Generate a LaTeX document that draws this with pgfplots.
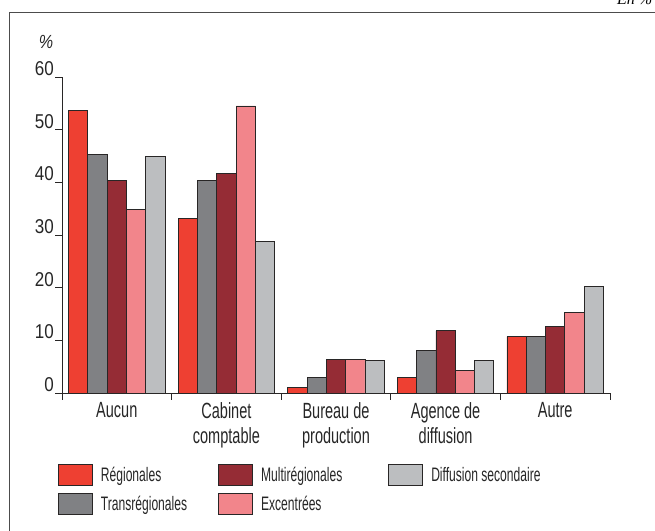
\documentclass[border=0pt]{standalone}
\usepackage{fontspec}
\setmainfont{Liberation Sans}[FakeStretch=0.66]
\newfontfamily\numfont{Liberation Sans}[FakeStretch=0.85]
\newfontfamily\legfont{Liberation Sans}[FakeStretch=0.62]
\newfontfamily\pctfont{Liberation Sans}[FakeStretch=0.85]
\newfontfamily\serifit{Liberation Serif}
\usepackage{pgfplots}
\pgfplotsset{compat=1.18}
\definecolor{cReg}{RGB}{238,64,50}
\definecolor{cTrans}{RGB}{128,129,132}
\definecolor{cMulti}{RGB}{149,44,53}
\definecolor{cExc}{RGB}{242,133,139}
\definecolor{cDiff}{RGB}{188,190,192}
\definecolor{cLine}{RGB}{40,38,38}
\begin{document}
\begin{tikzpicture}[x=1pt,y=1pt]
\path[use as bounding box] (0,0) rectangle (655,530);
\draw[line width=0.9pt, color=black!70] (9.5,-2) -- (9.5,517.5) -- (657,517.5);
\node[anchor=base west, inner sep=0pt, font=\serifit\itshape\fontsize{16}{18}\selectfont] at (617,525) {En \%};
\begin{axis}[
  at={(62pt,137pt)}, anchor=south west,
  scale only axis, width=548pt, height=316pt,
  xmin=0, xmax=5, ymin=0, ymax=60,
  axis x line*=bottom, axis y line*=left,
  axis line style={cLine, line width=0.8pt},
  ybar=0pt, bar width=19.3pt,
  xtick={0,1,2,3,4,5},
  xticklabels={Aucun, Cabinet\\comptable, Bureau de\\production, Agence de\\diffusion, Autre},
  x tick label as interval,
  ytick={0,10,20,30,40,50,60},
  tick align=outside,
  major tick length=6.5pt,
  tick style={cLine, line width=0.8pt},
  xticklabel style={font=\fontsize{22}{25}\selectfont, align=center, anchor=north, inner sep=2.5pt, text=black!85},
  yticklabel style={font=\numfont\fontsize{20}{22}\selectfont, anchor=base east, yshift=1.5pt, inner sep=1.5pt, text=black!85},
  /pgf/number format/assume math mode=true,
  clip=false,
  every axis plot/.append style={draw=cLine, line width=0.9pt},
  legend columns=2, transpose legend,
  legend image code/.code={\draw[#1, line width=0.9pt] (0pt,-3.5pt) rectangle (34pt,17.5pt);},
  legend style={at={(-0.0073,-0.2245)}, anchor=north west, draw=none, fill=none,
    inner sep=0pt, outer sep=0pt,
    font=\legfont\fontsize{19.5}{21}\selectfont,
    text=black!85,
    row sep=7pt, column sep=7pt,
    /tikz/every even column/.append style={column sep=30pt},
    nodes={inner sep=1pt, anchor=base west}},
  legend cell align=left,
]
\addplot[fill=cReg] coordinates {(0.5,53.7) (1.5,33.2) (2.5,1.0) (3.5,2.9) (4.5,10.7)};
\addlegendentry{Régionales}
\addplot[fill=cTrans] coordinates {(0.5,45.2) (1.5,40.4) (2.5,3.0) (3.5,8.1) (4.5,10.7)};
\addlegendentry{Transrégionales}
\addplot[fill=cMulti] coordinates {(0.5,40.4) (1.5,41.6) (2.5,6.3) (3.5,11.8) (4.5,12.6)};
\addlegendentry{Multirégionales\rule{15pt}{0pt}}
\addplot[fill=cExc] coordinates {(0.5,34.9) (1.5,54.5) (2.5,6.3) (3.5,4.2) (4.5,15.2)};
\addlegendentry{Excentrées}
\addplot[fill=cDiff] coordinates {(0.5,45.0) (1.5,28.7) (2.5,6.1) (3.5,6.1) (4.5,20.3)};
\addlegendentry{Diffusion secondaire}
\node[anchor=center, inner sep=0pt, text=black!85, font=\pctfont\itshape\fontsize{19}{20}\selectfont] at (rel axis cs:0,1) [xshift=-16pt, yshift=35pt] {\%};
\end{axis}
\end{tikzpicture}
\end{document}
